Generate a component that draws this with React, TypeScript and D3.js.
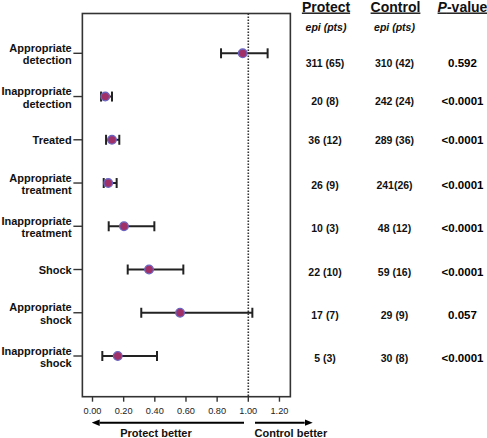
import React from "react";
import * as d3 from "d3";

// ---- Data ----
const categories = [
  "Appropriate detection",
  "Inappropriate detection",
  "Treated",
  "Appropriate treatment",
  "Inappropriate treatment",
  "Shock",
  "Appropriate shock",
  "Inappropriate shock",
];
const labelLines = [
  ["Appropriate", "detection"],
  ["Inappropriate", "detection"],
  ["Treated"],
  ["Appropriate", "treatment"],
  ["Inappropriate", "treatment"],
  ["Shock"],
  ["Appropriate", "shock"],
  ["Inappropriate", "shock"],
];
const estimate = [0.964, 0.082, 0.125, 0.101, 0.202, 0.363, 0.562, 0.162];
const lower = [0.825, 0.055, 0.087, 0.072, 0.104, 0.226, 0.313, 0.063];
const upper = [1.124, 0.125, 0.172, 0.155, 0.397, 0.583, 1.026, 0.414];
const protectCounts = ["311 (65)", "20 (8)", "36 (12)", "26 (9)", "10 (3)", "22 (10)", "17 (7)", "5 (3)"];
const controlCounts = ["310 (42)", "242 (24)", "289 (36)", "241(26)", "48 (12)", "59 (16)", "29 (9)", "30 (8)"];
const pValues = ["0.592", "<0.0001", "<0.0001", "<0.0001", "<0.0001", "<0.0001", "0.057", "<0.0001"];
const xTicks = [0, 0.2, 0.4, 0.6, 0.8, 1.0, 1.2];

// ---- Layout ----
const W = 487;
const H = 438;
const FONT = "'Liberation Sans', Arial, sans-serif";
const textRowNudge = [10, 4, 0, 1.5, 2, 2, 2, 2];

export default function App() {
  const x = d3.scaleLinear().domain([0, 1]).range([92.5, 248.3]);
  const y = d3.scalePoint<string>().domain(categories).range([53.3, 356]);
  const left = x(-0.065);
  const right = x(1.27);
  const top = 13.5;
  const bottom = 396.7;
  const fmt = d3.format(".2f");
  const colProtect = 326;
  const colControl = 394.5;
  const colP = 462.5;

  return (
    <svg
      width={W}
      height={H}
      style={{ position: "absolute", left: 0, top: 0, background: "#fff" }}
      fontFamily={FONT}
    >
      <defs>
        <marker id="arr" viewBox="0 0 10 8" refX="0" refY="4" markerWidth="4" markerHeight="3.3" orient="auto-start-reverse" markerUnits="strokeWidth">
          <path d="M0,0 L10,4 L0,8 z" fill="#000" />
        </marker>
      </defs>

      {/* plot frame */}
      <rect x={left} y={top} width={right - left} height={bottom - top} fill="none" stroke="#333" strokeWidth={1.6} />

      {/* reference line at 1 */}
      <line x1={x(1)} x2={x(1)} y1={top} y2={bottom} stroke="#333" strokeWidth={1.6} strokeDasharray="1.5 1.5" />

      {/* x axis ticks */}
      {xTicks.map((t) => (
        <g key={t}>
          <line x1={x(t)} x2={x(t)} y1={bottom} y2={bottom + 5} stroke="#333" strokeWidth={1.4} />
          <text x={x(t)} y={414} fontSize={9.2} textAnchor="middle" fill="#222">
            {fmt(t)}
          </text>
        </g>
      ))}

      {/* y ticks and labels */}
      {categories.map((c, i) => {
        const yy = y(c)!;
        const lines = labelLines[i];
        return (
          <g key={c}>
            <line x1={left - 9} x2={left} y1={yy} y2={yy} stroke="#333" strokeWidth={1.4} />
            {lines.length === 1 ? (
              <text x={71.7} y={yy + 4} fontSize={11} fontWeight="bold" textAnchor="end" fill="#111">
                {lines[0]}
              </text>
            ) : (
              <text x={71.7} fontSize={11} fontWeight="bold" textAnchor="end" fill="#111">
                <tspan x={71.7} y={yy - 1.5}>{lines[0]}</tspan>
                <tspan x={71.7} y={yy + 11}>{lines[1]}</tspan>
              </text>
            )}
          </g>
        );
      })}

      {/* error bars and points */}
      {categories.map((c, i) => {
        const yy = y(c)!;
        const x0 = x(lower[i]);
        const x1 = x(upper[i]);
        return (
          <g key={"e" + c}>
            <line x1={x0} x2={x1} y1={yy} y2={yy} stroke="#222" strokeWidth={2} />
            <line x1={x0} x2={x0} y1={yy - 5} y2={yy + 5} stroke="#222" strokeWidth={2} />
            <line x1={x1} x2={x1} y1={yy - 5} y2={yy + 5} stroke="#222" strokeWidth={2} />
            <circle cx={x(estimate[i])} cy={yy} r={4.3} fill="#a03068" stroke="#6a64c0" strokeWidth={1.3} />
          </g>
        );
      })}

      {/* arrows */}
      <line x1={99.7} x2={244} y1={422.7} y2={422.7} stroke="#000" strokeWidth={2} markerStart="url(#arr)" />
      <text x={156} y={437} fontSize={11} fontWeight="bold" textAnchor="middle" fill="#111">
        Protect better
      </text>
      <line x1={255} x2={304.7} y1={422.7} y2={422.7} stroke="#000" strokeWidth={2} markerEnd="url(#arr)" />
      <text x={254.5} y={437} fontSize={11} fontWeight="bold" textAnchor="start" fill="#111">
        Control better
      </text>

      {/* column headers */}
      <text x={colProtect} y={11.5} fontSize={14} fontWeight="bold" textAnchor="middle" textDecoration="underline" fill="#111">
        Protect
      </text>
      <text x={colControl + 1} y={11.5} fontSize={14} fontWeight="bold" textAnchor="middle" textDecoration="underline" fill="#111">
        Control
      </text>
      <text x={colP} y={11.5} fontSize={14} fontWeight="bold" textAnchor="middle" textDecoration="underline" fill="#111">
        <tspan fontStyle="italic">P</tspan>-value
      </text>
      <text x={colProtect} y={31} fontSize={10.5} fontWeight="bold" fontStyle="italic" textAnchor="middle" fill="#111">
        epi (pts)
      </text>
      <text x={colControl} y={31} fontSize={10.5} fontWeight="bold" fontStyle="italic" textAnchor="middle" fill="#111">
        epi (pts)
      </text>

      {/* table values */}
      {categories.map((c, i) => {
        const yy = y(c)! + textRowNudge[i] + 4;
        return (
          <g key={"t" + c}>
            <text x={colProtect - 1} y={yy} fontSize={10.5} fontWeight="bold" textAnchor="middle" fill="#111">
              {protectCounts[i]}
            </text>
            <text x={colControl} y={yy} fontSize={10.5} fontWeight="bold" textAnchor="middle" fill="#111">
              {controlCounts[i]}
            </text>
            <text x={colP} y={yy} fontSize={11.5} fontWeight="bold" textAnchor="middle" fill="#000">
              {pValues[i]}
            </text>
          </g>
        );
      })}
    </svg>
  );
}
